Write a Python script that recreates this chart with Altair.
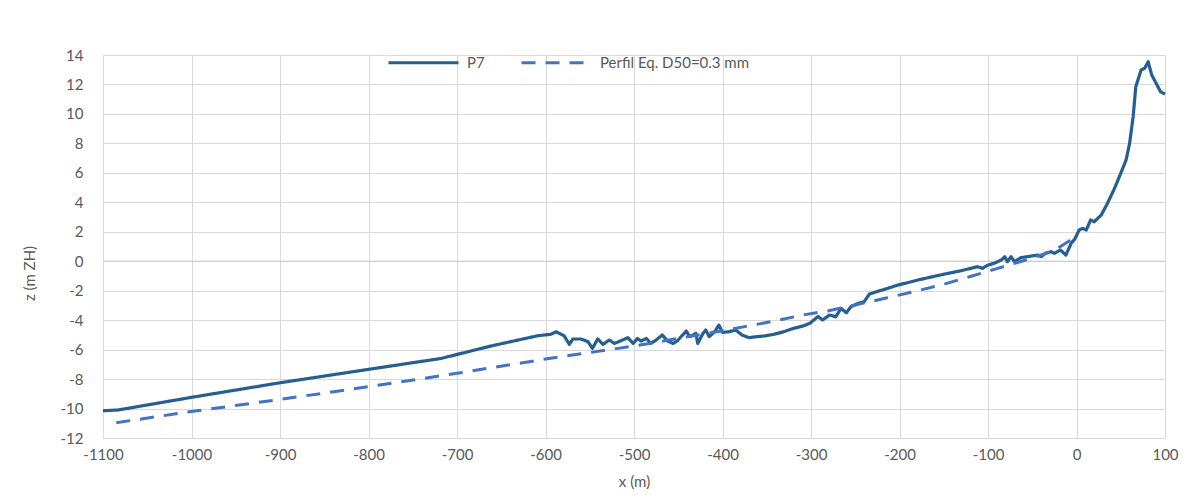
import altair as alt
import pandas as pd

# P7 measured profile
p7_x = [-1100, -1083, -1000, -900, -800, -718, -662, -609, -594, -588,
        -579, -573, -569, -560, -552, -547, -541, -535, -528, -522,
        -513, -507, -501, -496, -492, -486, -481, -475, -468, -462,
        -456, -451, -441, -437, -430, -428, -422, -419, -415, -409,
        -404, -400, -393, -385, -378, -370, -361, -351, -342, -331,
        -320, -308, -301, -292, -287, -279, -272, -266, -260, -255,
        -247, -240, -234, -226, -217, -202, -176, -149, -130, -112,
        -106, -100, -93, -85, -81, -78, -74, -70, -63, -44,
        -40, -35, -29, -25, -18, -12, -6, -2, 3, 7,
        11, 16, 20, 28, 35, 43, 50, 56, 60, 64,
        67, 73, 77, 81, 85, 90, 95, 100]
p7_z = [-10.15, -10.1, -9.24, -8.25, -7.34, -6.6, -5.76, -5.06, -4.96, -4.79,
        -5.06, -5.64, -5.28, -5.28, -5.46, -5.92, -5.28, -5.64, -5.35, -5.58,
        -5.35, -5.19, -5.58, -5.24, -5.42, -5.24, -5.58, -5.35, -5.01, -5.42,
        -5.58, -5.4, -4.74, -5.12, -4.9, -5.58, -4.9, -4.67, -5.12, -4.79,
        -4.34, -4.83, -4.79, -4.67, -5.01, -5.19, -5.12, -5.06, -4.96, -4.79,
        -4.56, -4.38, -4.2, -3.75, -3.99, -3.65, -3.77, -3.2, -3.5, -3.09,
        -2.86, -2.75, -2.23, -2.07, -1.91, -1.62, -1.23, -0.87, -0.64, -0.37,
        -0.48, -0.26, -0.14, 0.08, 0.31, -0.03, 0.31, -0.03, 0.24, 0.42,
        0.31, 0.54, 0.65, 0.54, 0.76, 0.42, 1.22, 1.5, 2.12, 2.23,
        2.12, 2.8, 2.68, 3.14, 3.93, 4.95, 5.97, 6.87, 8.0, 9.81,
        11.85, 12.98, 13.1, 13.54, 12.64, 12.08, 11.5, 11.35]

# Equilibrium profile
eq_x = [-1085, -1000, -900, -800, -700, -600, -500, -400, -375, -342,
        -310, -280, -250, -215, -183, -152, -120, -90, -58, -25, 0]
eq_z = [-10.96, -10.2, -9.38, -8.52, -7.61, -6.64, -5.76, -4.72, -4.44, -4.07,
        -3.66, -3.36, -2.97, -2.5, -2.05, -1.6, -1.04, -0.5, 0.07, 0.73, 1.7]

series_names = ["P7", "Perfil Eq. D50=0.3 mm"]
series_colors = ["#255E91", "#4472C4"]
series_dash = [[1, 0], [14, 10]]

x_ticks = list(range(-1100, 101, 100))
y_ticks = list(range(-12, 15, 2))

df_p7 = pd.DataFrame({"x": p7_x, "z": p7_z, "serie": series_names[0]})
df_eq = pd.DataFrame({"x": eq_x, "z": eq_z, "serie": series_names[1]})
df_zero = pd.DataFrame({"z": [0]})

FONT = "Lato"
GREY = "#595959"
LABEL_EXPR = "'' + datum.value"

x_enc = alt.X("x:Q", scale=alt.Scale(domain=[-1100, 100], nice=False, zero=False),
              axis=alt.Axis(values=x_ticks, title="x (m)", grid=True, ticks=False,
                            domain=False, labelPadding=9, titleY=36,
                            labelExpr=LABEL_EXPR, labelFlush=False, labelOverlap=False))
y_axis = alt.Axis(values=y_ticks, title="z (m ZH)", grid=True, ticks=False,
                  domain=False, labelPadding=20, titleX=-66, titleY=218,
                  labelExpr=LABEL_EXPR, labelOverlap=False, labelFlush=False,
                  tickCount=14)
y_scale = alt.Scale(domain=[-12, 14], nice=False, zero=False)
y_enc = alt.Y("z:Q", scale=y_scale, axis=y_axis)
legend = alt.Legend(title=None, orient="none", direction="horizontal",
                    legendX=284, legendY=-29, symbolType="stroke",
                    symbolSize=4900, symbolStrokeWidth=3,
                    labelFontSize=15, labelColor=GREY, labelFont=FONT,
                    columnPadding=30, labelOffset=7)
color_enc = alt.Color("serie:N",
                      scale=alt.Scale(domain=series_names, range=series_colors),
                      legend=legend)
dash_enc = alt.StrokeDash("serie:N",
                          scale=alt.Scale(domain=series_names, range=series_dash),
                          legend=legend)

zero_rule = alt.Chart(df_zero).mark_rule(color="#c8c8c8", strokeWidth=1).encode(
    y=alt.Y("z:Q", scale=y_scale, axis=y_axis))

line_p7 = alt.Chart(df_p7).mark_line(strokeWidth=3.2, strokeJoin="round").encode(
    x=x_enc, y=y_enc, color=color_enc, strokeDash=dash_enc, order="x:Q")
line_eq = alt.Chart(df_eq).mark_line(strokeWidth=3).encode(
    x=x_enc, y=y_enc, color=color_enc, strokeDash=dash_enc, order="x:Q")

chart = alt.layer(zero_rule, line_p7, line_eq).properties(
    width=1062, height=383,
    background="white",
    autosize=alt.AutoSizeParams(type="none"),
    padding={"left": 95, "top": 47, "right": 25, "bottom": 52},
).configure_view(stroke=None).configure_axis(
    gridColor="#d9d9d9", gridWidth=1, labelFont=FONT, labelFontSize=15,
    labelColor=GREY, titleFont=FONT, titleFontSize=15, titleColor=GREY,
    titleFontWeight="normal"
)

chart.save("out.html", embed_options={"renderer": "svg", "actions": False})
